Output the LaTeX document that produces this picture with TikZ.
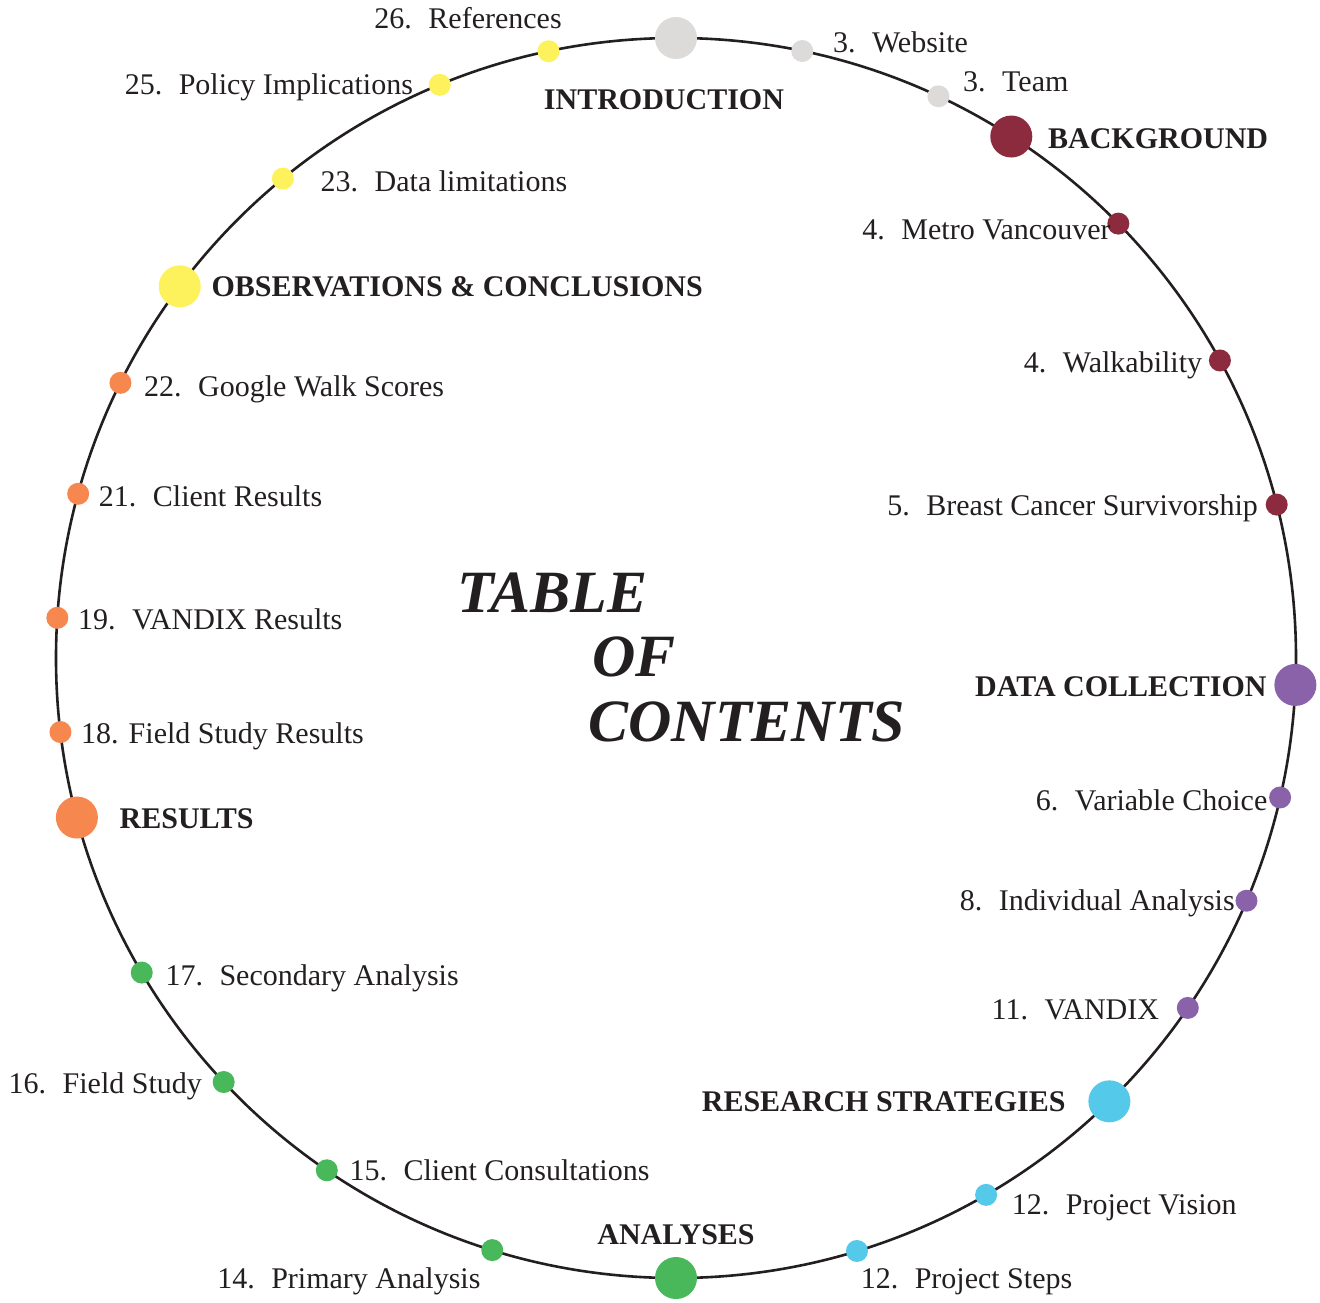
\documentclass[tikz,border=0pt]{standalone}
\usepackage{fontspec}
\setmainfont{Liberation Serif}

\definecolor{ink}{HTML}{231F20}
\definecolor{tocgray}{HTML}{DCDBDA}
\definecolor{wine}{HTML}{8B2B3D}
\definecolor{plum}{HTML}{8A62A9}
\definecolor{sky}{HTML}{55C9EA}
\definecolor{leaf}{HTML}{48B85A}
\definecolor{peach}{HTML}{F5874F}
\definecolor{lemon}{HTML}{FEF25C}

\newcommand{\tocsp}{\hspace{0.55em}}

\tikzset{
  ring/.style={draw=ink,line width=1.3pt},
  subdot/.style={circle,inner sep=0pt,minimum size=11pt},
  secdot/.style={circle,inner sep=0pt,minimum size=21pt},
  entry/.style={inner sep=0pt,text height=9.9pt,text depth=0pt,text=ink,
    font=\fontsize{15}{18}\selectfont},
  secname/.style={entry,font=\fontsize{15}{18}\selectfont\bfseries},
  bigtitle/.style={anchor=west,inner sep=0pt,text height=19.9pt,text depth=0pt,
    text=ink,font=\fontsize{30}{36}\selectfont\bfseries\itshape}
}

\begin{document}
\begin{tikzpicture}
    \useasboundingbox (-338pt,-322pt) rectangle (322pt,329pt);
    \draw[ring] (0,0) circle (310pt);

    % introduction
    \node[secdot,fill=tocgray,label={[secname,xshift=-6pt,yshift=-15pt]below:INTRODUCTION}] (intro) at (90:310pt) {};
    \node[subdot,fill=tocgray,label={[entry,xshift=9.5pt,yshift=4pt]right:3.\tocsp Website}] (website) at (78.25:310pt) {};
    \node[subdot,fill=tocgray,label={[entry,xshift=6.5pt,yshift=7.25pt]right:3.\tocsp Team}] (team) at (64.96:310pt) {};

    % background
    \node[secdot,fill=wine,label={[secname,xshift=7.5pt,yshift=-1.25pt]right:BACKGROUND}] (background) at (57.26:310pt) {};
    \node[subdot,fill=wine,label={[entry,xshift=2pt,yshift=-3pt]left:4.\tocsp Metro Vancouver}] (metro) at (44.48:310pt) {};
    \node[subdot,fill=wine,label={[entry,xshift=-3pt,yshift=-1pt]left:4.\tocsp Walkability}] (walk) at (28.68:310pt) {};
    \node[subdot,fill=wine,label={[entry,xshift=-3.5pt,yshift=-0.5pt]left:5.\tocsp Breast Cancer Survivorship}] (survivor) at (14.33:310pt) {};

    % data collection
    \node[secdot,fill=plum,label={[secname,xshift=-3.5pt,yshift=-0.75pt]left:DATA COLLECTION}] (datacoll) at (-2.49:310pt) {};
    \node[subdot,fill=plum,label={[entry,xshift=-0.5pt,yshift=-1.5pt]left:6.\tocsp Variable Choice}] (variable) at (-13:310pt) {};
    \node[subdot,fill=plum,label={[entry]left:8.\tocsp Individual Analysis}] (individual) at (-23.05:310pt) {};
    \node[subdot,fill=plum,label={[entry,xshift=-8.5pt,yshift=-0.75pt]left:11.\tocsp VANDIX}] (vandix) at (-34.36:310pt) {};

    % research strategies
    \node[secdot,fill=sky,label={[secname,xshift=-11pt]left:RESEARCH STRATEGIES}] (research) at (-45.65:310pt) {};
    \node[subdot,fill=sky,label={[entry,xshift=7pt,yshift=-5pt]right:12.\tocsp Project Vision}] (vision) at (-59.99:310pt) {};
    \node[subdot,fill=sky,label={[entry,xshift=-4pt,yshift=-14pt]right:12.\tocsp Project Steps}] (steps) at (-73.03:310pt) {};

    % analyses
    \node[secdot,fill=leaf,label={[secname,yshift=6pt]above:ANALYSES}] (analyses) at (-90:310pt) {};
    \node[subdot,fill=leaf,label={[entry,yshift=-14pt]left:14.\tocsp Primary Analysis}] (primary) at (-107.24:310pt) {};
    \node[subdot,fill=leaf,label={[entry,xshift=5.5pt]right:15.\tocsp Client Consultations}] (consult) at (-124.28:310pt) {};
    \node[subdot,fill=leaf,label={[entry,xshift=-5pt,yshift=-1pt]left:16.\tocsp Field Study}] (field) at (-136.85:310pt) {};
    \node[subdot,fill=leaf,label={[entry,xshift=6pt,yshift=-1.5pt]right:17.\tocsp Secondary Analysis}] (secondary) at (-149.51:310pt) {};

    % results
    \node[secdot,fill=peach,label={[secname,xshift=10.5pt,yshift=-0.5pt]right:RESULTS}] (results) at (194.91:310pt) {};
    \node[subdot,fill=peach,label={[entry,xshift=4.5pt,yshift=-0.75pt]right:18. Field Study Results}] (fieldres) at (186.86:310pt) {};
    \node[subdot,fill=peach,label={[entry,xshift=4.5pt,yshift=-1pt]right:19.\tocsp VANDIX Results}] (vandixres) at (176.28:310pt) {};
    \node[subdot,fill=peach,label={[entry,xshift=4.5pt,yshift=-1.25pt]right:21.\tocsp Client Results}] (clientres) at (164.64:310pt) {};
    \node[subdot,fill=peach,label={[entry,xshift=6pt,yshift=-1.75pt]right:22.\tocsp Google Walk Scores}] (walkscore) at (153.65:310pt) {};

    % observations and conclusions
    \node[secdot,fill=lemon,label={[secname,xshift=5pt]right:OBSERVATIONS \& CONCLUSIONS}] (observe) at (143.17:310pt) {};
    \node[subdot,fill=lemon,label={[entry,xshift=13pt,yshift=-1.5pt]right:23.\tocsp Data limitations}] (limits) at (129.35:310pt) {};
    \node[subdot,fill=lemon,label={[entry,xshift=-7.5pt]left:25.\tocsp Policy Implications}] (policy) at (112.4:310pt) {};
    \node[subdot,fill=lemon,label={[entry,xshift=12.5pt,yshift=16.25pt]left:26.\tocsp References}] (refs) at (101.87:310pt) {};

    % title
    \node[bigtitle] (ttable) at (-109.5pt,32.75pt) {TABLE};
    \node[bigtitle] (tof) at (-42pt,0.5pt) {OF};
    \node[bigtitle] (tcontents) at (-44pt,-32pt) {CONTENTS};
\end{tikzpicture}
\end{document}
